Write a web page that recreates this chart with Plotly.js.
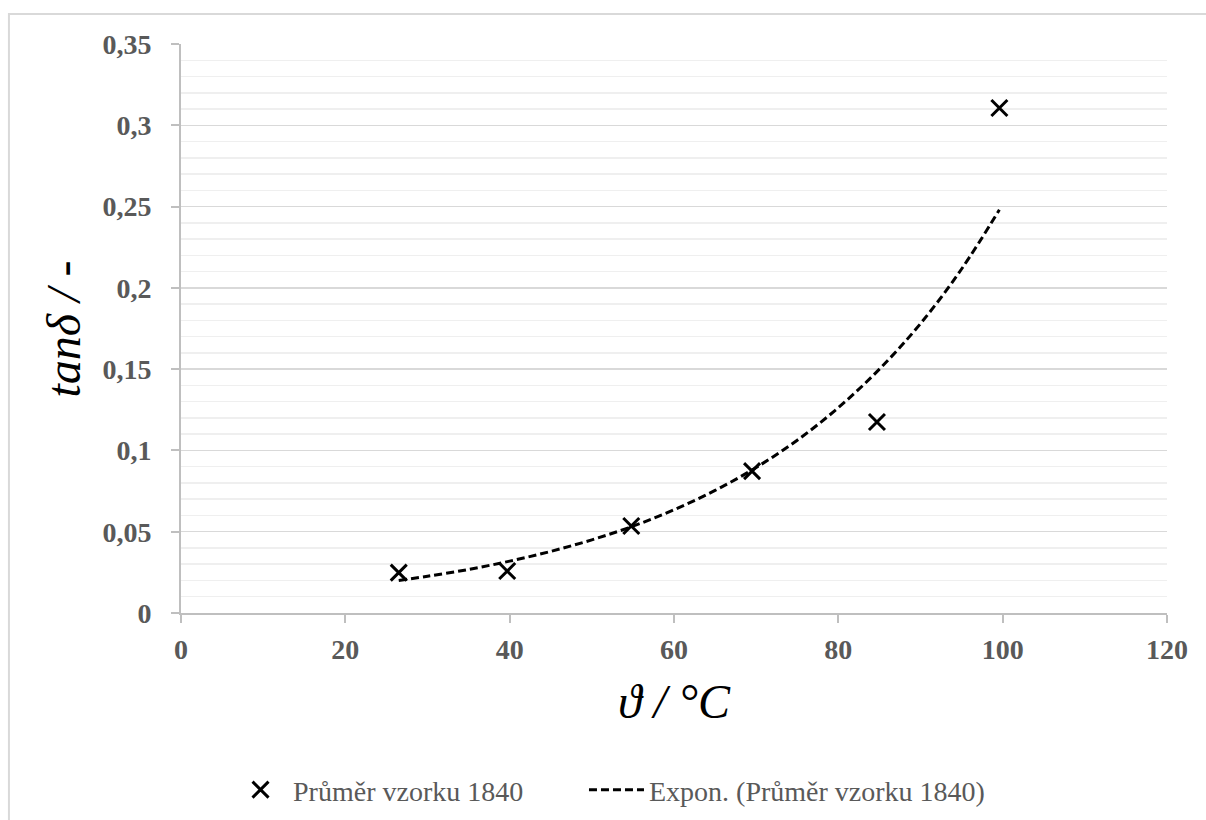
<!DOCTYPE html>
<html>
<head>
<meta charset="utf-8">
<script src="https://cdn.plot.ly/plotly-3.0.1.min.js"></script>
<style>html,body{margin:0;padding:0;background:#fff;}#chart{width:1206px;height:820px;}</style>
</head>
<body>
<div id="chart"></div>
<script>
// Measured points
var tempC = [26.5, 39.7, 54.8, 69.5, 84.7, 99.6];
var tanDelta = [0.0248, 0.0258, 0.0535, 0.0873, 0.1175, 0.3106];

// Exponential trendline
var trendX = [26.5, 30, 35, 40, 45, 50, 55, 60, 65, 70, 75, 80, 85, 90, 95, 99.6];
var trendY = [0.0200, 0.0226, 0.0268, 0.0319, 0.0379, 0.0450, 0.0534, 0.0635, 0.0754, 0.0895, 0.1063, 0.1263, 0.150, 0.178, 0.2116, 0.248];

var yTickVals = [0, 0.05, 0.1, 0.15, 0.2, 0.25, 0.3, 0.35];
var yTickText = ['0', '0,05', '0,1', '0,15', '0,2', '0,25', '0,3', '0,35'];
var xTickVals = [0, 20, 40, 60, 80, 100, 120];
var xTickText = ['0', '20', '40', '60', '80', '100', '120'];

var seriesName = 'Průměr vzorku 1840';
var trendName = 'Expon. (Průměr vzorku 1840)';
var xTitle = 'ϑ / °C';
var yTitle = 'tanδ / -';

var serif = 'Liberation Serif, Times New Roman, serif';
var tickFont = {family: serif, size: 28, color: '#595959', weight: 'bold'};
var legendFont = {family: serif, size: 28, color: '#595959'};

var traces = [
  {
    x: tempC, y: tanDelta, mode: 'markers', type: 'scatter', name: seriesName, legend: 'legend',
    marker: {symbol: 'x-thin-open', size: 16, color: '#000', line: {color: '#000', width: 3}}
  },
  {
    x: trendX, y: trendY, mode: 'lines', type: 'scatter', name: trendName, legend: 'legend2',
    line: {color: '#000', width: 3, dash: '8px,4px', shape: 'spline'}
  }
];

var layout = {
  width: 1206, height: 820,
  margin: {l: 181, r: 39, t: 44, b: 207, autoexpand: false},
  paper_bgcolor: '#fff', plot_bgcolor: '#fff',
  showlegend: true,
  legend: {
    orientation: 'h', x: 0.0477, xanchor: 'left', y: -0.311, yanchor: 'middle',
    font: legendFont, itemwidth: 55
  },
  legend2: {
    orientation: 'h', x: 0.4087, xanchor: 'left', y: -0.311, yanchor: 'middle',
    font: legendFont, itemwidth: 55
  },
  xaxis: {
    range: [0, 120], tickvals: xTickVals, ticktext: xTickText,
    showgrid: false, zeroline: false,
    showline: true, linecolor: '#bfbfbf', linewidth: 2,
    ticks: 'outside', ticklen: 8, tickcolor: '#bfbfbf', tickwidth: 2,
    tickfont: tickFont, ticklabelstandoff: 2,
    title: {text: xTitle, standoff: 21, font: {family: serif, size: 48, color: '#000', style: 'italic'}}
  },
  yaxis: {
    range: [0, 0.35], tickvals: yTickVals, ticktext: yTickText,
    showgrid: true, gridcolor: '#d9d9d9', gridwidth: 1.5,
    minor: {dtick: 0.01, showgrid: true, gridcolor: '#efefef', gridwidth: 1.5, ticks: ''},
    zeroline: false,
    showline: true, linecolor: '#bfbfbf', linewidth: 2,
    ticks: 'outside', ticklen: 8, tickcolor: '#bfbfbf', tickwidth: 2,
    tickfont: tickFont, ticklabelstandoff: 14
  },
  annotations: [
    {text: yTitle, xref: 'paper', yref: 'paper', x: -0.1187, y: 0.5, xanchor: 'center', yanchor: 'middle',
     textangle: -90, showarrow: false, font: {family: serif, size: 48, color: '#000', style: 'italic'}}
  ],
  shapes: [
    {type: 'rect', xref: 'paper', yref: 'paper', x0: -0.1745, x1: 1.2, y0: -0.5, y1: 1.0527,
     line: {color: '#d9d9d9', width: 2}, fillcolor: 'rgba(0,0,0,0)', layer: 'below'}
  ]
};

Plotly.newPlot('chart', traces, layout, {displayModeBar: false, staticPlot: true});
</script>
</body>
</html>
